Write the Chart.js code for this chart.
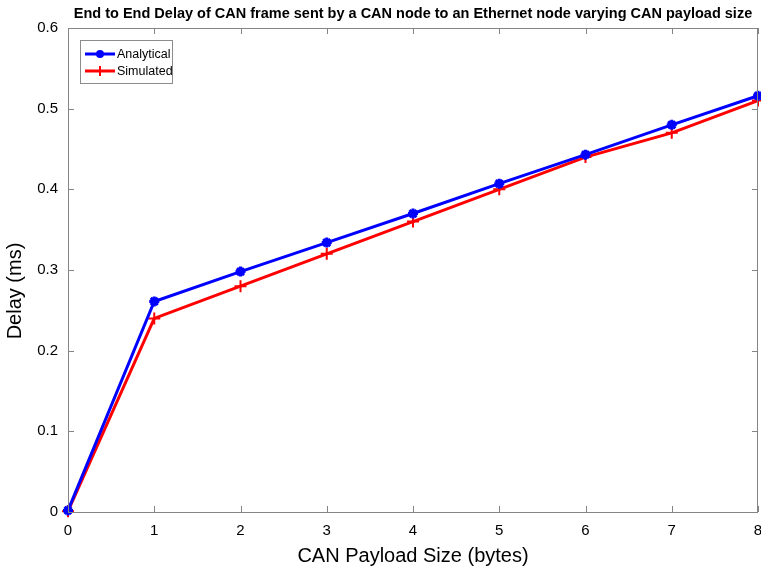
<!DOCTYPE html>
<html>
<head>
<meta charset="utf-8">
<script src="https://cdn.jsdelivr.net/npm/chart.js@4"></script>
<style>
  html, body { margin: 0; padding: 0; background: #fff; }
  #wrap { width: 761px; height: 573px; }
</style>
</head>
<body>
<div id="wrap"><canvas id="delayChart"></canvas></div>
<script>
const payloadSizes = [0, 1, 2, 3, 4, 5, 6, 7, 8];
const analyticalDelay = [0.002, 0.261, 0.298, 0.334, 0.370, 0.407, 0.443, 0.480, 0.516];
const simulatedDelay = [0.001, 0.240, 0.280, 0.320, 0.360, 0.400, 0.440, 0.470, 0.510];
const yTicks = [0, 0.1, 0.2, 0.3, 0.4, 0.5, 0.6];
const chartTitle = 'End to End Delay of CAN frame sent by a CAN node to an Ethernet node varying CAN payload size';

const axisGray = '#858585';
const fontFamily = '"Liberation Sans", Arial, sans-serif';

// MATLAB-like box with inward ticks, title, labels and legend inside the axes
const boxPlugin = {
    id: 'boxPlugin',
    afterDatasetsDraw(chart) {
        const { ctx, chartArea: a, scales } = chart;
        ctx.save();
        ctx.strokeStyle = axisGray;
        ctx.lineWidth = 1;
        ctx.strokeRect(a.left + 0.5, a.top + 0.5, a.right - a.left - 1, a.bottom - a.top);
        ctx.beginPath();
        scales.x.ticks.forEach(t => {
            const px = Math.round(scales.x.getPixelForValue(t.value)) + 0.5;
            ctx.moveTo(px, a.bottom); ctx.lineTo(px, a.bottom - 6);
            ctx.moveTo(px, a.top); ctx.lineTo(px, a.top + 6);
        });
        scales.y.ticks.forEach(t => {
            const py = Math.round(scales.y.getPixelForValue(t.value)) + 0.5;
            ctx.moveTo(a.left, py); ctx.lineTo(a.left + 6, py);
            ctx.moveTo(a.right, py); ctx.lineTo(a.right - 6, py);
        });
        ctx.stroke();

        // x tick labels (last one runs off the canvas like the original)
        ctx.fillStyle = '#000';
        ctx.font = '15px ' + fontFamily;
        ctx.textAlign = 'center';
        ctx.textBaseline = 'middle';
        scales.x.ticks.forEach(t => {
            ctx.fillText(String(t.value), scales.x.getPixelForValue(t.value), a.bottom + 19);
        });

        // title
        ctx.font = 'bold 14.5px ' + fontFamily;
        ctx.fillText(chartTitle, (a.left + a.right) / 2, 14);

        // y axis title
        ctx.save();
        ctx.translate(15, 291);
        ctx.rotate(-Math.PI / 2);
        ctx.font = '20px ' + fontFamily;
        ctx.fillText('Delay (ms)', 0, 0);
        ctx.restore();

        // legend
        const lx = a.left + 12, ly = a.top + 12, lw = 92, lh = 43;
        ctx.fillStyle = '#fff';
        ctx.fillRect(lx, ly, lw, lh);
        ctx.strokeStyle = '#8c8c8c';
        ctx.lineWidth = 1;
        ctx.strokeRect(lx + 0.5, ly + 0.5, lw, lh);
        ctx.font = '12.5px ' + fontFamily;
        ctx.textAlign = 'left';
        chart.data.datasets.forEach((ds, i) => {
            const yy = ly + 14 + i * 17;
            ctx.strokeStyle = ds.borderColor;
            ctx.lineWidth = 3;
            ctx.beginPath();
            ctx.moveTo(lx + 5, yy); ctx.lineTo(lx + 35, yy);
            ctx.stroke();
            ctx.fillStyle = ds.borderColor;
            if (i === 0) {
                ctx.beginPath(); ctx.arc(lx + 20, yy, 4, 0, Math.PI * 2); ctx.fill();
            } else {
                ctx.lineWidth = 2;
                ctx.beginPath();
                ctx.moveTo(lx + 20, yy - 5); ctx.lineTo(lx + 20, yy + 5);
                ctx.stroke();
            }
            ctx.fillStyle = '#000';
            ctx.fillText(ds.label, lx + 37, yy + 1);
        });
        ctx.restore();
    }
};

const ctxDelay = document.getElementById('delayChart').getContext('2d');
const delayChart = new Chart(ctxDelay, {
    type: 'line',
    data: {
        labels: payloadSizes,
        datasets: [
            {
                label: 'Analytical',
                data: payloadSizes.map((x, i) => ({ x: x, y: analyticalDelay[i] })),
                borderColor: '#0000ff',
                backgroundColor: '#0000ff',
                borderWidth: 3,
                pointStyle: 'star',
                pointRadius: 5,
                pointBorderWidth: 3,
                tension: 0
            },
            {
                label: 'Simulated',
                data: payloadSizes.map((x, i) => ({ x: x, y: simulatedDelay[i] })),
                borderColor: '#ff0000',
                backgroundColor: '#ff0000',
                borderWidth: 3,
                pointStyle: 'cross',
                pointRadius: 6,
                pointBorderWidth: 2,
                tension: 0
            }
        ]
    },
    options: {
        responsive: true,
        maintainAspectRatio: false,
        animation: false,
        clip: false,
        layout: { autoPadding: false, padding: { left: 0, right: 3, top: 28, bottom: 0 } },
        scales: {
            x: {
                type: 'linear',
                min: 0,
                max: 8,
                grid: { display: false },
                border: { display: false },
                afterFit: s => { s.height = 61; },
                ticks: { display: false, stepSize: 1 },
                title: {
                    display: true,
                    text: 'CAN Payload Size (bytes)',
                    color: '#000',
                    padding: { top: 0, bottom: 5 },
                    font: { family: fontFamily, size: 20 }
                }
            },
            y: {
                min: 0,
                max: 0.6,
                afterBuildTicks: s => { s.ticks = yTicks.map(v => ({ value: v })); },
                afterFit: s => { s.width = 68; s.paddingTop = 0; s.paddingBottom = 0; },
                grid: { display: false },
                border: { display: false },
                ticks: {
                    color: '#000',
                    padding: 2,
                    font: { family: fontFamily, size: 15 },
                    callback: v => v === 0 ? '0' : v.toFixed(1)
                }
            }
        },
        plugins: {
            legend: { display: false },
            tooltip: { enabled: false },
            title: { display: false }
        }
    },
    plugins: [boxPlugin]
});
</script>
</body>
</html>
